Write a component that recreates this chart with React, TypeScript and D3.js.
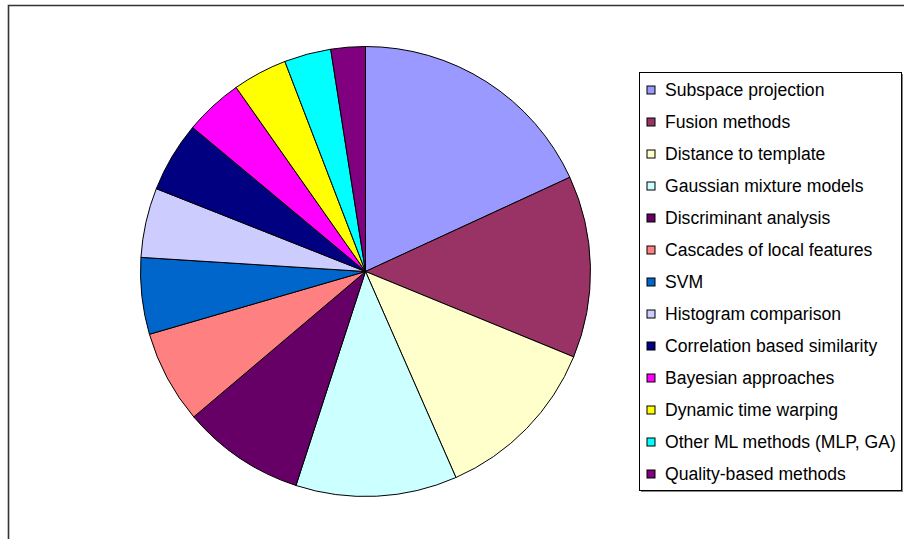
import React from "react";
import * as d3 from "d3";

const categories = [
  "Subspace projection",
  "Fusion methods",
  "Distance to template",
  "Gaussian mixture models",
  "Discriminant analysis",
  "Cascades of local features",
  "SVM",
  "Histogram comparison",
  "Correlation based similarity",
  "Bayesian approaches",
  "Dynamic time warping",
  "Other ML methods (MLP, GA)",
  "Quality-based methods",
];

const values = [65.25, 47.05, 44.0, 41.7, 31.75, 24.05, 19.8, 18.0, 18.2, 15.1, 14.1, 12.1, 8.9];

const colors = [
  "#9999FF",
  "#993366",
  "#FFFFCC",
  "#CCFFFF",
  "#660066",
  "#FF8080",
  "#0066CC",
  "#CCCCFF",
  "#000080",
  "#FF00FF",
  "#FFFF00",
  "#00FFFF",
  "#800080",
];

export default function App() {
  const W = 904;
  const H = 539;
  const cx = 365.5;
  const cy = 271.5;
  const r = 225;

  const pie = d3.pie<number>().sort(null).value((d) => d);
  const arcs = pie(values);
  const arc = d3.arc<d3.PieArcDatum<number>>().innerRadius(0).outerRadius(r);

  const legendX = 639.5;
  const legendY = 72.5;
  const legendW = 262;
  const legendH = 418;
  const rowY = d3.scaleLinear().domain([0, categories.length - 1]).range([90, 474]);

  return (
    <svg
      width={W}
      height={H}
      style={{ position: "absolute", left: 0, top: 0, background: "#fff" }}
      fontFamily="Liberation Sans, Arial, sans-serif"
    >
      <rect x={0} y={0} width={W} height={H} fill="#fff" />
      <path d={`M8.5,${H + 5} L8.5,5.5 L${W + 5},5.5`} fill="none" stroke="#333" strokeWidth={1.6} />
      <g transform={`translate(${cx},${cy})`}>
        {arcs.map((a, i) => (
          <path key={i} d={arc(a) || ""} fill={colors[i]} stroke="#000" strokeWidth={1} strokeLinejoin="round" />
        ))}
      </g>
      <rect x={legendX + 1.5} y={legendY + 1.5} width={legendW} height={legendH} fill="#888" />
      <rect x={legendX} y={legendY} width={legendW} height={legendH} fill="#fff" stroke="#000" strokeWidth={1} />
      {categories.map((c, i) => (
        <g key={c}>
          <rect x={647} y={rowY(i) - 4} width={8} height={8} fill={colors[i]} stroke="#000" strokeWidth={1} />
          <text x={665} y={rowY(i)} dy="0.35em" fontSize={17.6} fill="#000">
            {c}
          </text>
        </g>
      ))}
    </svg>
  );
}
